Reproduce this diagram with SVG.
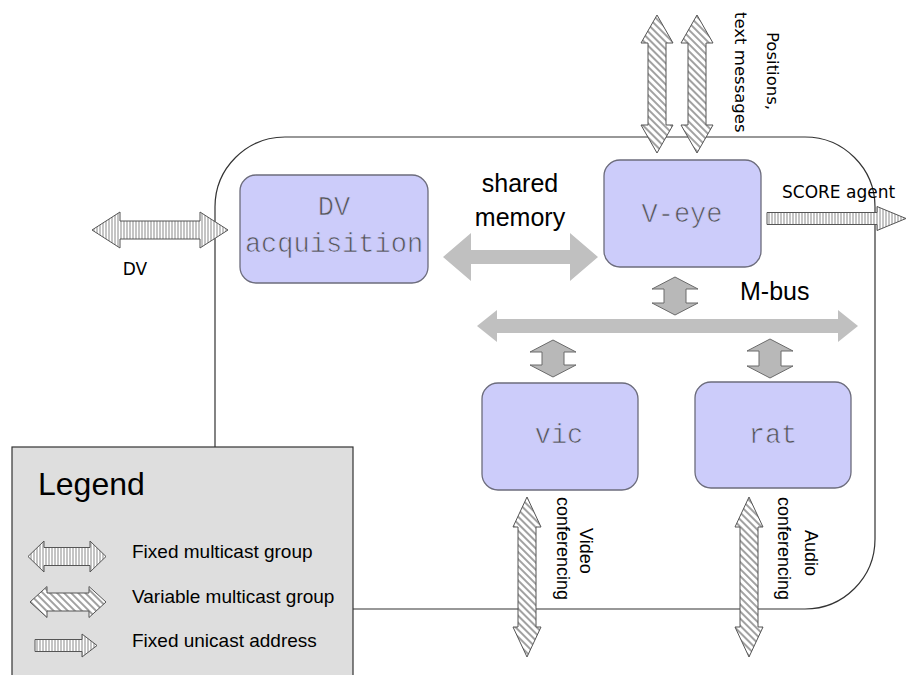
<svg xmlns="http://www.w3.org/2000/svg" width="907" height="675" viewBox="0 0 907 675">
<style>
.node{fill:#ccccfa;stroke:#6c6c7c;stroke-width:1.3}
.ntext{font-family:"Liberation Mono","Courier New",monospace;font-size:27px;fill:#555;stroke:#ccccfa;stroke-width:0.7;text-anchor:middle}
.lbl{font-family:"Liberation Sans",Arial,sans-serif;fill:#000}
.dj{font-family:"DejaVu Sans",Verdana,sans-serif;fill:#000}
.fixed{fill:url(#vstripe);stroke:#555;stroke-width:1}
.var{fill:url(#dstripe);stroke:#555;stroke-width:1}
.big{fill:#c0c0c0}
.small{fill:#b8b8b8;stroke:#6a6a6a;stroke-width:1}
</style>
<defs>
<pattern id="vstripe" width="3" height="10" patternUnits="userSpaceOnUse">
<rect width="3" height="10" fill="#fff"/>
<line x1="1" y1="0" x2="1" y2="10" stroke="#8a8a8a" stroke-width="1"/>
</pattern>
<pattern id="dstripe" width="5" height="5" patternUnits="userSpaceOnUse" patternTransform="rotate(-45)">
<rect width="5" height="5" fill="#fff"/>
<line x1="1" y1="0" x2="1" y2="5" stroke="#8a8a8a" stroke-width="1.6"/>
</pattern>
</defs>
<rect x="0" y="0" width="907" height="675" fill="#fff"/>
<rect id="system" x="215" y="137" width="660" height="472" rx="70" ry="70" fill="none" stroke="#333" stroke-width="1.2"/>

<g id="connectors">
<polygon class="big" points="443,257 471,233 471,250 570,250 570,233 598,257 570,281 570,264 471,264 471,281"/>
<polygon class="big" points="477,326 497,310 497,319 838,319 838,310 858,326 838,342 838,333 497,333 497,342"/>
<polygon class="small" points="675,277 698,289 686,289 686,303 698,303 675,315 652,303 664,303 664,289 652,289"/>
<polygon class="small" points="553,340 576,352 564,352 564,365 576,365 553,377 530,365 542,365 542,352 530,352"/>
<polygon class="small" points="770,339 793,351 781,351 781,366 793,366 770,378 747,366 759,366 759,351 747,351"/>
<polygon class="var" points="657,15 673,43 666,43 666,125 673,125 657,153 641,125 648,125 648,43 641,43"/>
<polygon class="var" points="697,15 713,43 706,43 706,125 713,125 697,153 681,125 688,125 688,43 681,43"/>
<polygon class="var" points="527,497 541,527 536,527 536,627 541,627 527,657 513,627 518,627 518,527 513,527"/>
<polygon class="var" points="749,497 763,527 758,527 758,627 763,627 749,657 735,627 740,627 740,527 735,527"/>
<polygon class="fixed" points="92,230 120,212 120,221 200,221 200,212 228,230 200,248 200,239 120,239 120,248"/>
<polygon class="fixed" points="767,212.5 877,212.5 877,206.5 906,218.5 877,230.5 877,224.5 767,224.5"/>
</g>

<g id="dv-acquisition">
<rect class="node" x="240" y="175" width="188" height="108" rx="16"/>
<text class="ntext" x="334" y="215">DV</text>
<text class="ntext" x="334" y="252">acquisition</text>
</g>
<g id="v-eye">
<rect class="node" x="604" y="160" width="157" height="107" rx="16"/>
<text class="ntext" x="682" y="222">V-eye</text>
</g>
<g id="vic">
<rect class="node" x="482" y="383" width="156" height="107" rx="16"/>
<text class="ntext" x="559" y="443">vic</text>
</g>
<g id="rat">
<rect class="node" x="695" y="382" width="156" height="106" rx="16"/>
<text class="ntext" x="773" y="443">rat</text>
</g>

<g id="labels">
<text class="lbl" x="520" y="192" font-size="25" text-anchor="middle">shared</text>
<text class="lbl" x="520" y="226" font-size="25" text-anchor="middle">memory</text>
<text class="lbl" x="740" y="300" font-size="25">M-bus</text>
<text class="dj" x="135" y="275" font-size="17" text-anchor="middle">DV</text>
<text class="dj" x="782" y="198" font-size="17">SCORE agent</text>
<text class="dj" font-size="16.5" transform="translate(767,32) rotate(90)">Positions,</text>
<text class="dj" font-size="16.5" transform="translate(735,12) rotate(90)">text messages</text>
<text class="lbl" font-size="18" transform="translate(580,528) rotate(90)">Video</text>
<text class="lbl" font-size="18" transform="translate(557,497) rotate(90)">conferencing</text>
<text class="lbl" font-size="18" transform="translate(805,530) rotate(90)">Audio</text>
<text class="lbl" font-size="18" transform="translate(778,497) rotate(90)">conferencing</text>
</g>

<g id="legend">
<rect x="12" y="447" width="341" height="240" fill="#dedede" stroke="#333" stroke-width="1.2"/>
<text class="lbl" x="38" y="495" font-size="32">Legend</text>
<polygon class="fixed" points="28,556.5 44,541 44,547.5 90,547.5 90,541 106,556.5 90,572 90,565.5 44,565.5 44,572"/>
<polygon class="var" points="30,602 47,586.5 47,593 89,593 89,586.5 106,602 89,617.5 89,611 47,611 47,617.5"/>
<polygon class="fixed" points="35,639.5 82,639.5 82,634 97,645.5 82,657 82,651.5 35,651.5"/>
<text class="lbl" x="132" y="558" font-size="19">Fixed multicast group</text>
<text class="lbl" x="132" y="603" font-size="19">Variable multicast group</text>
<text class="lbl" x="132" y="647" font-size="19">Fixed unicast address</text>
</g>
</svg>
